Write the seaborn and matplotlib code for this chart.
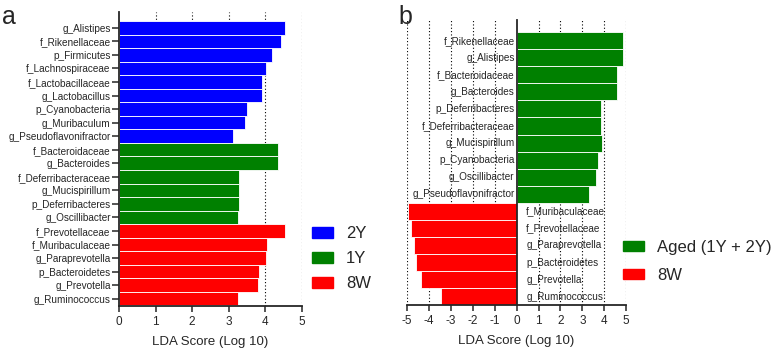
import pandas as pd
import seaborn as sns
import matplotlib.pyplot as plt
from matplotlib.patches import Patch

# Panel a: LDA scores by group
taxa_a = ["g_Alistipes", "f_Rikenellaceae", "p_Firmicutes", "f_Lachnospiraceae",
          "f_Lactobacillaceae", "g_Lactobacillus", "p_Cyanobacteria", "g_Muribaculum",
          "g_Pseudoflavonifractor",
          "f_Bacteroidaceae", "g_Bacteroides", "f_Deferribacteraceae", "g_Mucispirillum",
          "p_Deferribacteres", "g_Oscillibacter",
          "f_Prevotellaceae", "f_Muribaculaceae", "g_Paraprevotella", "p_Bacteroidetes",
          "g_Prevotella", "g_Ruminococcus"]
scores_a = [4.54, 4.43, 4.18, 4.01, 3.91, 3.91, 3.50, 3.44, 3.12,
            4.36, 4.36, 3.29, 3.29, 3.29, 3.25,
            4.55, 4.04, 4.01, 3.84, 3.80, 3.26]
groups_a = ["2Y"] * 9 + ["1Y"] * 6 + ["8W"] * 6

# Panel b: aged vs young
taxa_b = ["f_Rikenellaceae", "g_Alistipes", "f_Bacteroidaceae", "g_Bacteroides",
          "p_Deferribacteres", "f_Deferribacteraceae", "g_Mucispirillum",
          "p_Cyanobacteria", "g_Oscillibacter", "g_Pseudoflavonifractor",
          "f_Muribaculaceae", "f_Prevotellaceae", "g_Paraprevotella",
          "p_Bacteroidetes", "g_Prevotella", "g_Ruminococcus"]
scores_b = [4.85, 4.85, 4.57, 4.57, 3.87, 3.87, 3.89, 3.72, 3.63, 3.31,
            -4.94, -4.83, -4.68, -4.57, -4.34, -3.45]
groups_b = ["Aged (1Y + 2Y)"] * 10 + ["8W"] * 6

colors_a = {"2Y": "#0000ff", "1Y": "#008000", "8W": "#ff0000"}
colors_b = {"Aged (1Y + 2Y)": "#008000", "8W": "#ff0000"}

sns.set_style("ticks")
plt.rcParams["font.family"] = ["Liberation Sans", "DejaVu Sans"]
plt.rcParams["axes.unicode_minus"] = False

df_a = pd.DataFrame({"taxon": taxa_a, "score": scores_a, "group": groups_a})
df_b = pd.DataFrame({"taxon": taxa_b, "score": scores_b, "group": groups_b})

fig = plt.figure(figsize=(7.78, 3.48), dpi=100)
ax_a = fig.add_axes([0.153, 0.121, 0.235, 0.845])
ax_b = fig.add_axes([0.523, 0.124, 0.282, 0.819])

grid_kw = dict(color="black", linestyle=(0, (1, 2)), linewidth=0.8)

# ---- panel a
sns.barplot(data=df_a, x="score", y="taxon", hue="group", palette=colors_a,
            dodge=False, width=1, orient="h", ax=ax_a, legend=False,
            edgecolor="white", linewidth=0.6, saturation=1)
ax_a.set_xlim(0, 5)
ax_a.set_ylim(len(taxa_a) - 0.47, -1.18)
ax_a.set_xticks(range(0, 6))
for v in range(1, 6):
    ax_a.axvline(v, zorder=0, **grid_kw)
ax_a.set_ylabel("")
ax_a.set_xlabel("LDA Score (Log 10)", fontsize=9.5, labelpad=6)
ax_a.tick_params(axis="y", labelsize=7.2, length=5, width=1.1, pad=1)
ax_a.tick_params(axis="x", labelsize=8.5, length=4, width=1.1, pad=3)
sns.despine(ax=ax_a)
for s in ["left", "bottom"]:
    ax_a.spines[s].set_linewidth(1.3)

# ---- panel b
sns.barplot(data=df_b, x="score", y="taxon", hue="group", palette=colors_b,
            dodge=False, width=1, orient="h", ax=ax_b, legend=False,
            edgecolor="white", linewidth=0.6, saturation=1)
ax_b.set_xlim(-5, 5)
ax_b.set_ylim(len(taxa_b) - 0.52, -1.22)
ax_b.set_xticks(range(-5, 6))
for v in range(-5, 6):
    if v != 0:
        ax_b.axvline(v, zorder=0, **grid_kw)
ax_b.set_ylabel("")
ax_b.set_yticks([])
ax_b.set_xlabel("LDA Score (Log 10)", fontsize=9.5, labelpad=6)
ax_b.tick_params(axis="x", labelsize=8.5, length=4, width=1.1, pad=3)
sns.despine(ax=ax_b)
ax_b.spines["left"].set_position(("data", 0))
for s in ["left", "bottom"]:
    ax_b.spines[s].set_linewidth(1.3)
for i, row in df_b.iterrows():
    if row["score"] >= 0:
        ax_b.annotate(row["taxon"], (0, i), xytext=(-1.5, 0), textcoords="offset points",
                      ha="right", va="center", fontsize=7.2)
    else:
        ax_b.annotate(row["taxon"], (0, i), xytext=(7, 0), textcoords="offset points",
                      ha="left", va="center", fontsize=7.2)

# ---- legends
leg_kw = dict(frameon=False, fontsize=12, handlelength=1.25, handleheight=0.55,
              handletextpad=0.8, borderpad=0, borderaxespad=0, loc="center left")
fig.legend(handles=[Patch(color=c, label=k) for k, c in colors_a.items()],
           bbox_to_anchor=(0.401, 0.256), labelspacing=0.6, **leg_kw)
fig.legend(handles=[Patch(color=c, label=k) for k, c in colors_b.items()],
           bbox_to_anchor=(0.801, 0.249), labelspacing=0.8, **leg_kw)

fig.text(0.003, 0.931, "a", fontsize=18, va="baseline")
fig.text(0.512, 0.931, "b", fontsize=18, va="baseline")

fig.savefig("out.png", dpi=100)
